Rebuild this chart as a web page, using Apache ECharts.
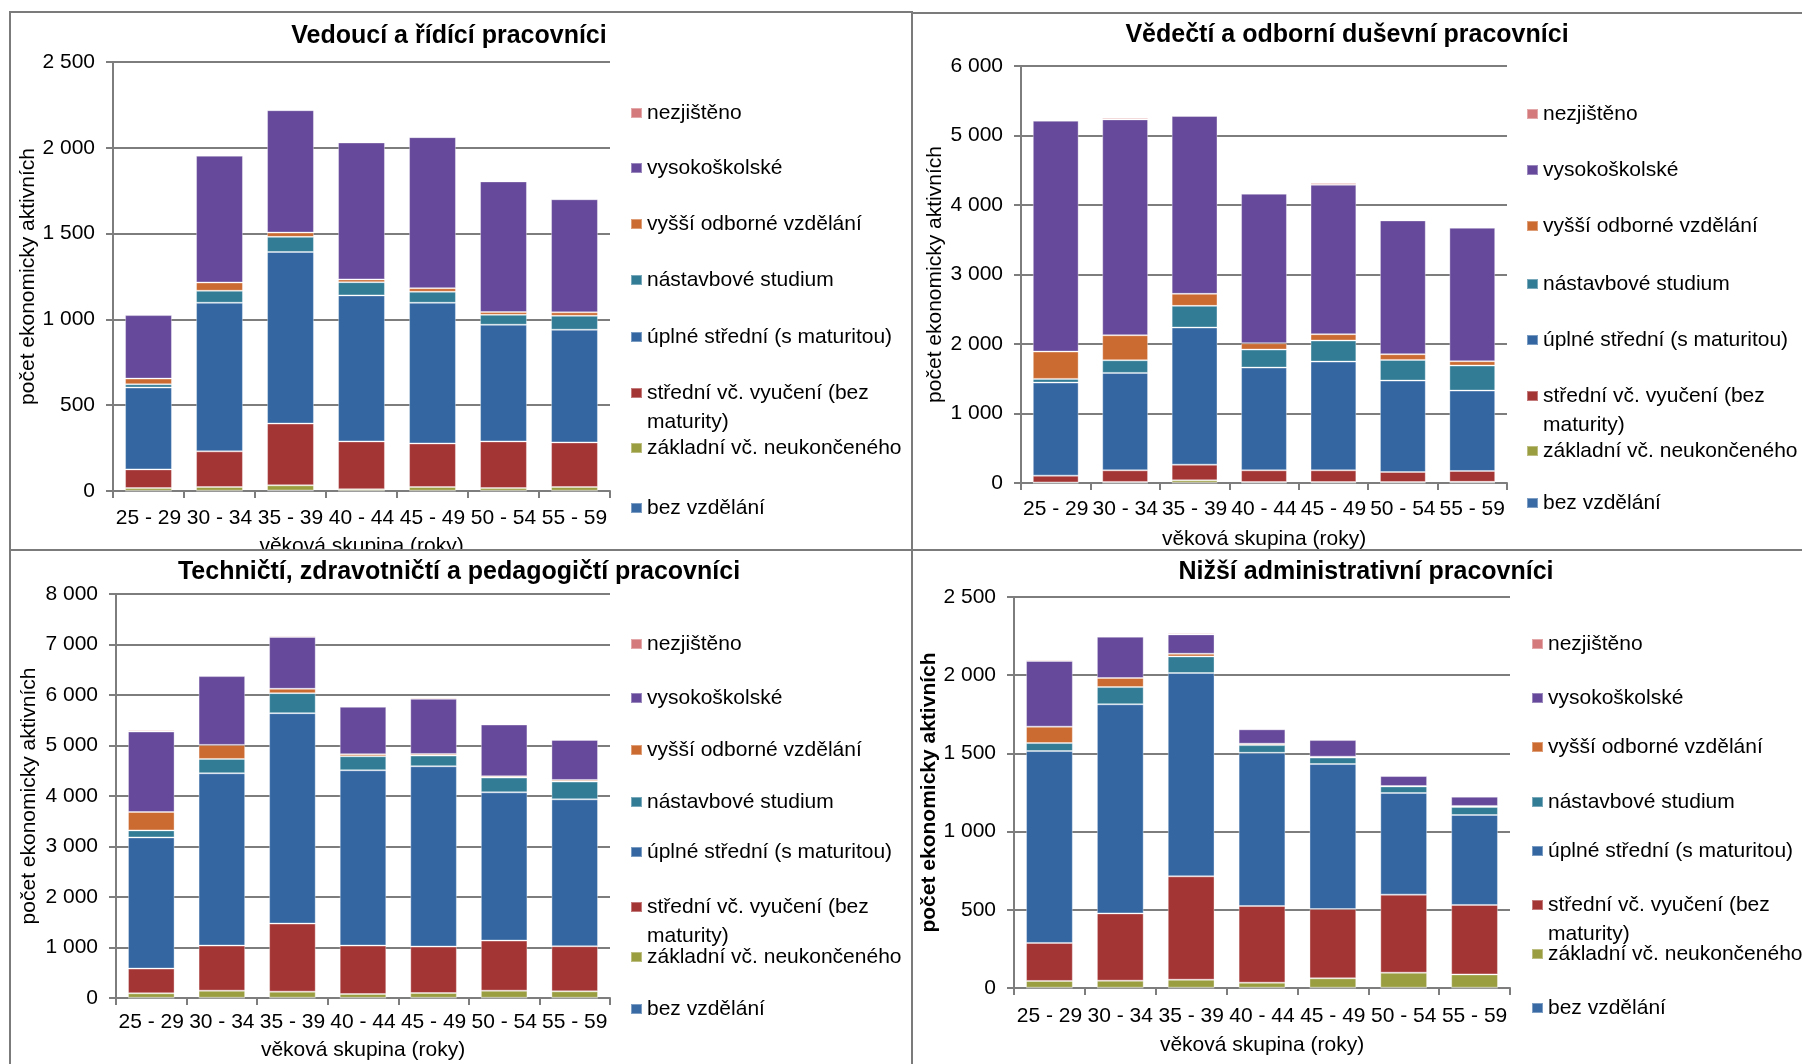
<!DOCTYPE html>
<html><head><meta charset="utf-8">
<script src="https://cdn.jsdelivr.net/npm/echarts@6/dist/echarts.min.js"></script>
<style>
html,body{margin:0;padding:0;background:#fff;width:1802px;height:1064px;overflow:hidden;position:relative}
.panel{position:absolute;border:2px solid #7b7b7b;overflow:hidden;background:#fff;box-sizing:border-box}
.inner{position:absolute;width:1802px;height:1064px}
</style></head><body>
<div class="panel" id="p1" style="left:9px;top:11px;width:904px;height:540px"><div class="inner" id="c1" style="left:-11px;top:-13px"></div></div>
<div class="panel" id="p2" style="left:911px;top:12px;width:900px;height:539px"><div class="inner" id="c2" style="left:-913px;top:-14px"></div></div>
<div class="panel" id="p3" style="left:9px;top:549px;width:904px;height:600px"><div class="inner" id="c3" style="left:-11px;top:-551px"></div></div>
<div class="panel" id="p4" style="left:911px;top:549px;width:900px;height:600px"><div class="inner" id="c4" style="left:-913px;top:-551px"></div></div>
<script>
// ---------- DATA ----------
const categories = ['25 - 29','30 - 34','35 - 39','40 - 44','45 - 49','50 - 54','55 - 59'];
const seriesNames = ['bez vzdělání','základní vč. neukončeného','střední vč. vyučení (bez maturity)','úplné střední (s maturitou)','nástavbové studium','vyšší odborné vzdělání','vysokoškolské','nezjištěno'];
const chartTitles = ['Vedoucí a řídící pracovníci','Vědečtí a odborní duševní pracovníci','Techničtí, zdravotničtí a pedagogičtí pracovníci','Nižší administrativní pracovníci'];
const yAxisName = 'počet ekonomicky aktivních';
const xAxisName = 'věková skupina (roky)';
const yMaxes = [2500, 6000, 8000, 2500];
const yIntervals = [500, 1000, 1000, 500];

// Vedoucí a řídící pracovníci
const ved_bez      = [2, 2, 3, 1, 2, 2, 2];
const ved_zakladni = [15, 21, 30, 9, 21, 15, 21];
const ved_stredni  = [109, 208, 360, 279, 254, 272, 260];
const ved_uplne    = [477, 866, 1000, 851, 820, 680, 657];
const ved_nastavb  = [19, 70, 88, 77, 64, 58, 81];
const ved_vyssi    = [33, 48, 25, 16, 21, 16, 20];
const ved_vs       = [370, 739, 713, 798, 880, 761, 659];
const ved_nezj     = [6, 5, 6, 6, 6, 4, 5];

// Vědečtí a odborní duševní pracovníci
const ved2_bez      = [3, 3, 5, 4, 4, 4, 5];
const ved2_zakladni = [5, 12, 33, 10, 10, 10, 12];
const ved2_stredni  = [98, 167, 226, 168, 168, 144, 156];
const ved2_uplne    = [1339, 1402, 1973, 1479, 1565, 1316, 1157];
const ved2_nastavb  = [53, 182, 312, 259, 303, 297, 360];
const ved2_vyssi    = [393, 360, 173, 91, 91, 82, 62];
const ved2_vs       = [3322, 3106, 2558, 2151, 2150, 1925, 1920];
const ved2_nezj     = [14, 19, 14, 14, 24, 14, 10];

// Techničtí, zdravotničtí a pedagogičtí pracovníci
const tech_bez      = [5, 5, 6, 4, 5, 5, 5];
const tech_zakladni = [88, 140, 120, 75, 94, 140, 127];
const tech_stredni  = [489, 893, 1348, 959, 919, 992, 893];
const tech_uplne    = [2598, 3412, 4166, 3471, 3571, 2936, 2909];
const tech_nastavb  = [139, 284, 397, 278, 211, 291, 351];
const tech_vyssi    = [364, 278, 86, 40, 33, 26, 33];
const tech_vs       = [1593, 1362, 1025, 939, 1091, 1025, 793];
const tech_nezj     = [27, 20, 26, 20, 27, 20, 20];

// Nižší administrativní pracovníci
const adm_bez      = [2, 2, 2, 2, 2, 2, 2];
const adm_zakladni = [43, 45, 51, 32, 60, 96, 85];
const adm_stredni  = [243, 430, 661, 490, 443, 499, 444];
const adm_uplne    = [1227, 1337, 1300, 980, 927, 650, 575];
const adm_nastavb  = [51, 110, 106, 49, 41, 42, 51];
const adm_vyssi    = [105, 58, 17, 9, 6, 2, 7];
const adm_vs       = [420, 264, 124, 92, 106, 64, 59];
const adm_nezj     = [8, 6, 8, 4, 7, 5, 7];

const chartData = [
  [ved_bez, ved_zakladni, ved_stredni, ved_uplne, ved_nastavb, ved_vyssi, ved_vs, ved_nezj],
  [ved2_bez, ved2_zakladni, ved2_stredni, ved2_uplne, ved2_nastavb, ved2_vyssi, ved2_vs, ved2_nezj],
  [tech_bez, tech_zakladni, tech_stredni, tech_uplne, tech_nastavb, tech_vyssi, tech_vs, tech_nezj],
  [adm_bez, adm_zakladni, adm_stredni, adm_uplne, adm_nastavb, adm_vyssi, adm_vs, adm_nezj]
];

// ---------- STYLE / LAYOUT ----------
const FONT = "'Liberation Sans', Arial, sans-serif";
const colors = ['#3A6AA3','#9A9D40','#A43535','#3467A2','#327C96','#CB6A31','#66499A','#D47A7C'];
const GRAY = '#7d7d7d';
const layouts = [
  {id:'c1', grid:{left:113, top:62, width:497, height:429}, title:[449, 23.5], yGap:73.5, xGap:45, xMargin:17,
   legendX:630, legendY:[113,168,224,280,337,393,448,508], yNameBold:false},
  {id:'c2', grid:{left:1021, top:66, width:486, height:417}, title:[1347, 22.5], yGap:75, xGap:46, xMargin:16,
   legendX:1526, legendY:[114,170,226,284,340,396,451,503], yNameBold:false},
  {id:'c3', grid:{left:116, top:594, width:494, height:404}, title:[459, 560], yGap:76.5, xGap:42, xMargin:14,
   legendX:630, legendY:[644,698,750,802,852,907,957,1009], yNameBold:false},
  {id:'c4', grid:{left:1014, top:597, width:496, height:391}, title:[1366, 560], yGap:69.5, xGap:47, xMargin:18,
   legendX:1531, legendY:[644,698,747,802,851,905,954,1008], yNameBold:true}
];

function fmt(v){ return String(v).replace(/\B(?=(\d{3})+(?!\d))/g, ' '); }

layouts.forEach(function(L, ci){
  const chart = echarts.init(document.getElementById(L.id), null, {renderer:'canvas', width:1802, height:1064});
  const series = seriesNames.map(function(name, si){
    return {
      name: name, type: 'bar', stack: 'total', data: chartData[ci][si],
      barCategoryGap: '34%',
      itemStyle: {color: colors[si], borderColor: 'rgba(255,255,255,0.35)', borderWidth: 1},
      emphasis: {disabled: true}
    };
  });
  // legend in reverse order (top = nezjištěno)
  const legendOrder = seriesNames.slice().reverse();
  const legends = legendOrder.map(function(name, k){
    const multi = name.indexOf('(bez maturity)') >= 0;
    const lh = multi ? 29 : 24;
    const h = multi ? lh * 3 : lh;
    return {
      data: [name], left: L.legendX, top: L.legendY[k] - h / 2,
      orient: 'vertical', padding: 0, itemGap: 0, itemWidth: 11, itemHeight: 10, icon: 'rect',
      textStyle: {fontSize: 21, color: '#000', fontFamily: FONT, lineHeight: lh},
      formatter: multi ? function(){ return '\nstřední vč. vyučení (bez\nmaturity)'; } : '{name}'
    };
  });
  chart.setOption({
    animation: false,
    color: colors,
    title: {text: chartTitles[ci], left: L.title[0], top: L.title[1], textAlign: 'center', padding: 0,
      textStyle: {fontSize: 25, fontWeight: 'bold', color: '#000', fontFamily: FONT}},
    legend: legends,
    grid: Object.assign({containLabel: false}, L.grid),
    xAxis: {
      type: 'category', data: categories, boundaryGap: true,
      name: xAxisName, nameLocation: 'middle', nameGap: L.xGap,
      nameTextStyle: {fontSize: 21, color: '#000', fontFamily: FONT},
      axisLine: {show: true, lineStyle: {color: GRAY, width: 2}},
      axisTick: {show: true, length: 7, lineStyle: {color: GRAY, width: 2}},
      axisLabel: {interval: 0, margin: L.xMargin, fontSize: 21, color: '#000', fontFamily: FONT},
      splitLine: {show: false}
    },
    yAxis: {
      type: 'value', min: 0, max: yMaxes[ci], interval: yIntervals[ci],
      name: yAxisName, nameLocation: 'middle', nameGap: L.yGap, nameRotate: 90,
      nameTextStyle: {fontSize: 21, color: '#000', fontFamily: FONT, fontWeight: L.yNameBold ? 'bold' : 'normal'},
      axisLine: {show: true, lineStyle: {color: GRAY, width: 2}},
      axisTick: {show: true, length: 7, lineStyle: {color: GRAY, width: 2}},
      axisLabel: {margin: 18, fontSize: 21, color: '#000', fontFamily: FONT, formatter: fmt},
      splitLine: {show: true, lineStyle: {color: GRAY, width: 2}}
    },
    series: series
  });
});
</script>
</body></html>
